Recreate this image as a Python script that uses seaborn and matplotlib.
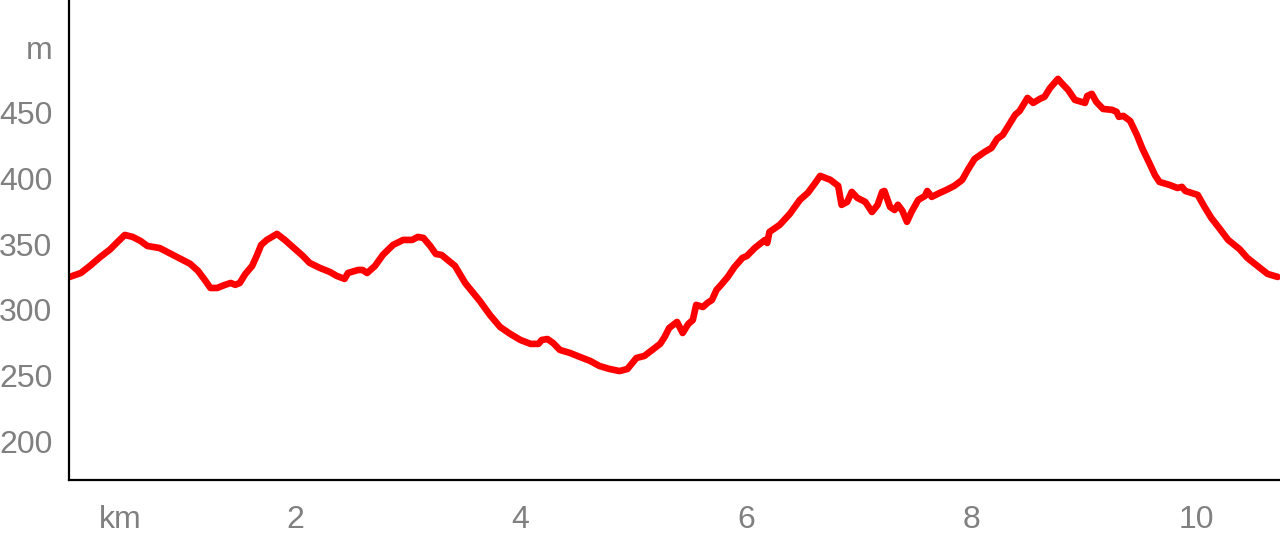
import matplotlib
matplotlib.use("Agg")
import matplotlib.pyplot as plt
import seaborn as sns
import pandas as pd

# distance along the route (km) and elevation (m)
distance_km = [
    0.00, 0.10, 0.18, 0.27, 0.36, 0.43, 0.49, 0.56, 0.63, 0.69, 0.80, 0.89,
    0.98, 1.07, 1.14, 1.20, 1.25, 1.31, 1.38, 1.43, 1.47, 1.51, 1.56, 1.62,
    1.66, 1.70, 1.75, 1.84, 1.91, 2.00, 2.07, 2.13, 2.22, 2.31, 2.37, 2.44,
    2.47, 2.56, 2.60, 2.64, 2.71, 2.78, 2.87, 2.96, 3.04, 3.09, 3.14, 3.20,
    3.25, 3.30, 3.42, 3.51, 3.64, 3.73, 3.82, 3.91, 4.00, 4.09, 4.16, 4.19,
    4.24, 4.29, 4.35, 4.44, 4.53, 4.62, 4.70, 4.79, 4.88, 4.95, 5.00, 5.03,
    5.10, 5.17, 5.24, 5.28, 5.32, 5.39, 5.44, 5.49, 5.53, 5.56, 5.62, 5.66,
    5.70, 5.74, 5.78, 5.84, 5.90, 5.97, 6.01, 6.08, 6.17, 6.19, 6.21, 6.30,
    6.39, 6.48, 6.55, 6.61, 6.66, 6.75, 6.82, 6.85, 6.90, 6.94, 6.99, 7.06,
    7.12, 7.17, 7.21, 7.23, 7.28, 7.32, 7.35, 7.39, 7.43, 7.47, 7.53, 7.59,
    7.61, 7.65, 7.72, 7.78, 7.85, 7.92, 7.97, 8.03, 8.12, 8.18, 8.23, 8.28,
    8.34, 8.39, 8.43, 8.50, 8.55, 8.61, 8.65, 8.70, 8.77, 8.80, 8.86, 8.92,
    9.01, 9.03, 9.07, 9.11, 9.17, 9.25, 9.29, 9.31, 9.35, 9.41, 9.47, 9.52,
    9.58, 9.63, 9.67, 9.76, 9.83, 9.87, 9.90, 10.01, 10.07, 10.13, 10.20, 10.28,
    10.38, 10.45, 10.54, 10.63, 10.72,
]
elevation_m = [
    325.0, 328.0, 333.4, 340.0, 346.0, 352.0, 357.0, 355.5, 352.4, 348.6, 347.0, 343.0,
    339.0, 335.0, 329.6, 322.7, 316.6, 316.6, 319.0, 320.4, 319.0, 320.4, 327.3, 333.4,
    341.0, 349.4, 353.2, 357.8, 353.2, 346.3, 341.0, 335.7, 331.9, 328.8, 325.8, 323.5,
    328.0, 330.3, 330.3, 328.0, 333.4, 341.8, 349.4, 353.2, 353.2, 355.5, 354.7, 348.6,
    342.5, 341.8, 333.4, 320.4, 306.7, 296.0, 286.9, 281.6, 277.0, 274.0, 274.0, 277.0,
    277.7, 274.7, 269.4, 267.1, 264.0, 261.0, 257.2, 254.9, 253.3, 254.9, 260.2, 263.3,
    264.8, 269.4, 274.0, 279.3, 286.1, 290.7, 282.3, 289.2, 292.2, 303.7, 302.1, 305.2,
    307.5, 315.1, 318.9, 325.0, 332.6, 339.5, 341.0, 347.1, 353.2, 350.9, 359.3, 364.6,
    373.0, 383.7, 389.0, 395.9, 402.0, 399.0, 394.4, 379.9, 382.2, 389.8, 385.2, 382.2,
    374.5, 379.9, 389.8, 390.5, 378.4, 376.0, 380.0, 375.3, 367.0, 374.5, 383.7, 386.7,
    390.5, 386.0, 389.0, 391.3, 394.4, 398.9, 406.6, 414.9, 420.3, 423.3, 430.2, 433.2,
    441.6, 448.5, 451.5, 461.4, 457.6, 460.7, 462.2, 469.0, 475.9, 472.9, 467.5, 459.9,
    457.6, 462.9, 464.5, 458.4, 453.0, 452.3, 450.8, 447.0, 447.7, 443.9, 433.2, 422.6,
    411.9, 402.7, 397.4, 395.1, 392.8, 393.6, 390.5, 387.5, 378.4, 370.0, 362.3, 353.2,
    346.3, 339.5, 333.4, 327.3, 325.0,
]

x_ticks = [2, 4, 6, 8, 10]
y_ticks = [200, 250, 300, 350, 400, 450]

df = pd.DataFrame({"km": distance_km, "m": elevation_m})

sns.set_style("white")
plt.rcParams["font.family"] = ["Liberation Sans", "DejaVu Sans"]

fig = plt.figure(figsize=(12.8, 5.41), dpi=100)
ax = fig.add_axes([69 / 1280, 61 / 541, 1211 / 1280, 480 / 541])

sns.lineplot(data=df, x="km", y="m", color="#ff0000", lw=4.8, ax=ax,
             solid_joinstyle="round")

ax.set_xlim(-0.005, 10.74)
ax.set_ylim(170.3, 536)

# unit labels take the place of the first tick on each axis
ax.set_xticks([0.45] + x_ticks)
ax.set_xticklabels(["km"] + [str(v) for v in x_ticks])
ax.set_yticks(y_ticks + [500])
ax.set_yticklabels([str(v) for v in y_ticks] + ["m"])

ax.tick_params(axis="both", length=0, labelsize=23, labelcolor="#808080")
ax.tick_params(axis="y", pad=12)
ax.tick_params(axis="x", pad=18)
ax.set_xlabel("")
ax.set_ylabel("")

for side in ["top", "right"]:
    ax.spines[side].set_visible(False)
for side in ["left", "bottom"]:
    ax.spines[side].set_color("black")
    ax.spines[side].set_linewidth(1.6)

plt.savefig("out.png", dpi=100)
